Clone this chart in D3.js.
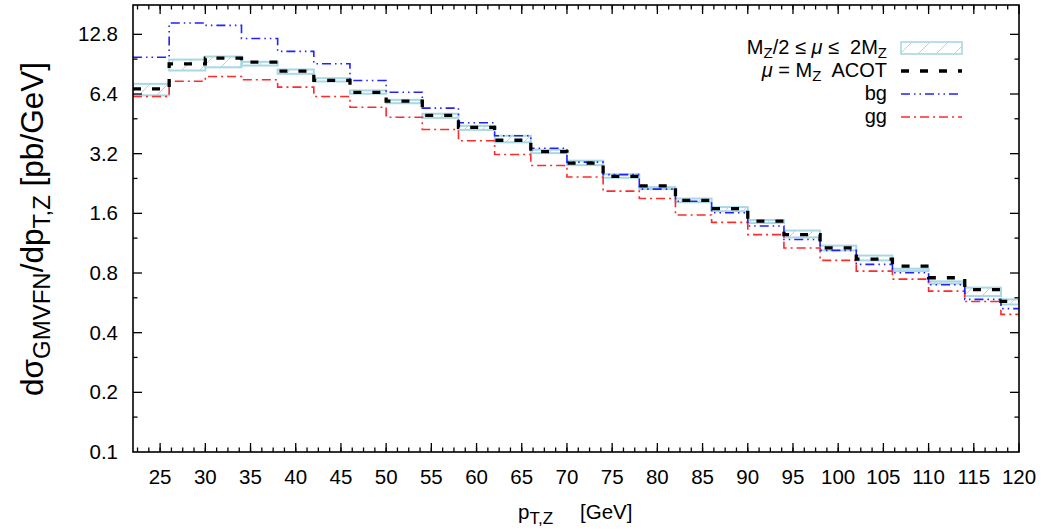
<!DOCTYPE html>
<html>
<head>
<meta charset="utf-8">
<script src="https://cdn.jsdelivr.net/npm/d3@7"></script>
<style>
  body { margin: 0; background: #fff; }
  text { font-family: Arial, "Liberation Sans", Helvetica, sans-serif; fill: #000; }
</style>
</head>
<body>
<script>
// bin left edges (GeV), 4 GeV wide
const binEdges = d3.range(22, 123, 4);
// scale band M_Z/2 <= mu <= 2 M_Z
const bandLo = [6.3, 8.41, 8.73, 8.91, 8.09, 7.40, 6.42, 5.75, 4.85, 4.22, 3.65, 3.22, 2.80, 2.42, 2.12, 1.82, 1.64, 1.43, 1.21, 1.04, 0.926, 0.818, 0.707, 0.612, 0.555];
const bandHi = [7.2, 9.55, 9.89, 9.30, 8.51, 7.69, 6.67, 5.98, 5.09, 4.42, 3.94, 3.35, 2.95, 2.52, 2.17, 1.90, 1.72, 1.48, 1.31, 1.10, 0.98, 0.841, 0.726, 0.675, 0.589];
// mu = M_Z ACOT
const acot = [6.80, 9.09, 9.70, 9.26, 8.34, 7.49, 6.53, 5.89, 4.99, 4.34, 3.74, 3.28, 2.87, 2.46, 2.20, 1.86, 1.69, 1.46, 1.25, 1.07, 0.94, 0.867, 0.757, 0.659, 0.575];
const bg = [9.81, 14.6, 14.2, 12.2, 10.5, 9.09, 7.49, 6.53, 5.43, 4.58, 3.94, 3.41, 2.90, 2.51, 2.12, 1.84, 1.61, 1.38, 1.18, 1.04, 0.884, 0.803, 0.698, 0.589, 0.529];
const gg = [6.22, 7.42, 7.84, 7.55, 6.93, 6.22, 5.49, 4.89, 4.24, 3.72, 3.17, 2.79, 2.44, 2.07, 1.90, 1.57, 1.44, 1.25, 1.07, 0.926, 0.818, 0.745, 0.648, 0.575, 0.495];

const xTicks = d3.range(25, 121, 5);
const xMinor = d3.range(22.5, 120, 1.25);
const yTicks = [0.1, 0.2, 0.4, 0.8, 1.6, 3.2, 6.4, 12.8];
const yMinor = [0.15, 0.3, 0.6, 1.2, 2.4, 4.8, 9.6];

const width = 1058, height = 532;
const pL = 133, pR = 1019, pT = 5, pB = 452;

const svg = d3.select('body').append('svg')
    .attr('width', width)
    .attr('height', height);

const x = d3.scaleLinear().domain([22, 120]).range([pL, pR]);
const y = d3.scaleLog().domain([0.1, 18]).range([pB, pT]);

const defs = svg.append('defs');
defs.append('clipPath').attr('id', 'clip')
  .append('rect')
    .attr('x', pL).attr('y', pT)
    .attr('width', pR - pL).attr('height', pB - pT);

const hatch = defs.append('pattern')
    .attr('id', 'hatch')
    .attr('patternUnits', 'userSpaceOnUse')
    .attr('width', 18).attr('height', 18);
hatch.append('path')
    .attr('d', 'M0,18 L18,0 M-4.5,4.5 L4.5,-4.5 M13.5,22.5 L22.5,13.5')
    .attr('stroke', '#a9d8e4')
    .attr('stroke-width', 1);

const plot = svg.append('g').attr('clip-path', 'url(#clip)');

// uncertainty band boxes
plot.append('g').selectAll('rect')
    .data(bandLo)
    .enter().append('rect')
    .attr('x', (d, i) => x(binEdges[i]))
    .attr('width', (d, i) => x(binEdges[i] + 4) - x(binEdges[i]))
    .attr('y', (d, i) => y(bandHi[i]))
    .attr('height', (d, i) => y(d) - y(bandHi[i]))
    .attr('fill', 'url(#hatch)')
    .attr('stroke', '#a9d8e4')
    .attr('stroke-width', 2);

// histogram steps
const step = d3.line()
    .x(d => x(d[0]))
    .y(d => y(d[1]))
    .curve(d3.curveStepAfter);

function stepPoints(vals) {
    return binEdges.map((e, i) => [e, vals[Math.min(i, vals.length - 1)]]);
}

const series = [
    { vals: gg, color: '#ff2a2a', width: 1.6, dash: '9,4,2,4' },
    { vals: bg, color: '#2222ff', width: 1.6, dash: '9,4,1.5,4,1.5,4' },
    { vals: acot, color: '#000', width: 3.3, dash: '8,11' }
];

plot.selectAll('path.series')
    .data(series)
    .enter().append('path')
    .attr('class', 'series')
    .attr('d', d => step(stepPoints(d.vals)))
    .attr('fill', 'none')
    .attr('stroke', d => d.color)
    .attr('stroke-width', d => d.width)
    .attr('stroke-dasharray', d => d.dash);

// frame and ticks (mirrored on all sides)
const axes = svg.append('g').attr('stroke', '#000').attr('stroke-width', 1.3);
axes.append('rect')
    .attr('x', pL).attr('y', pT)
    .attr('width', pR - pL).attr('height', pB - pT)
    .attr('fill', 'none').attr('stroke-width', 1.6);

function xTickLines(vals, len) {
    axes.selectAll(null).data(vals).enter().append('line')
        .attr('x1', d => x(d)).attr('x2', d => x(d))
        .attr('y1', pB).attr('y2', pB - len);
    axes.selectAll(null).data(vals).enter().append('line')
        .attr('x1', d => x(d)).attr('x2', d => x(d))
        .attr('y1', pT).attr('y2', pT + len);
}
function yTickLines(vals, len) {
    axes.selectAll(null).data(vals).enter().append('line')
        .attr('y1', d => y(d)).attr('y2', d => y(d))
        .attr('x1', pL).attr('x2', pL + len);
    axes.selectAll(null).data(vals).enter().append('line')
        .attr('y1', d => y(d)).attr('y2', d => y(d))
        .attr('x1', pR).attr('x2', pR - len);
}
xTickLines(xTicks, 9);
xTickLines(xMinor, 4.5);
yTickLines(yTicks.slice(1), 9);
yTickLines(yMinor, 4.5);

svg.append('g').selectAll('text')
    .data(xTicks)
    .enter().append('text')
    .attr('x', d => x(d))
    .attr('y', 484)
    .attr('text-anchor', 'middle')
    .attr('font-size', 20.5)
    .text(d => d);

svg.append('g').selectAll('text')
    .data(yTicks)
    .enter().append('text')
    .attr('x', 118)
    .attr('y', d => y(d) + 7)
    .attr('text-anchor', 'end')
    .attr('font-size', 20.5)
    .text(d => d);

// axis titles
const xt = svg.append('text')
    .attr('x', 518).attr('y', 519)
    .attr('font-size', 20.5);
xt.append('tspan').text('p');
xt.append('tspan').attr('dy', 5).attr('font-size', 17).text('T,Z');
svg.append('text')
    .attr('x', 580).attr('y', 519)
    .attr('font-size', 20.5)
    .text('[GeV]');

const yt = svg.append('text')
    .attr('transform', 'translate(43,229) rotate(-90)')
    .attr('text-anchor', 'middle')
    .attr('font-size', 31.5);
yt.append('tspan').text('dσ');
yt.append('tspan').attr('dy', 7).attr('font-size', 24).text('GMVFN');
yt.append('tspan').attr('dy', -7).text('/dp');
yt.append('tspan').attr('dy', 7).attr('font-size', 24).text('T,Z');
yt.append('tspan').attr('dy', -7).text(' [pb/GeV]');

// legend
const legendRows = [
    { y: 48, kind: 'band' },
    { y: 71, kind: 'line', s: series[2] },
    { y: 94, kind: 'line', s: series[1] },
    { y: 117, kind: 'line', s: series[0] }
];
const lx0 = 901, lx1 = 962, ltx = 887;
const legend = svg.append('g');
legendRows.forEach(r => {
    if (r.kind === 'band') {
        legend.append('rect')
            .attr('x', lx0).attr('y', r.y - 6)
            .attr('width', lx1 - lx0).attr('height', 12)
            .attr('fill', 'url(#hatch)')
            .attr('stroke', '#a9d8e4').attr('stroke-width', 1.6);
    } else {
        legend.append('line')
            .attr('x1', lx0).attr('x2', lx1)
            .attr('y1', r.y).attr('y2', r.y)
            .attr('stroke', r.s.color)
            .attr('stroke-width', r.s.width)
            .attr('stroke-dasharray', r.s.dash);
    }
});
const fs = 20, sfs = 15;
const l1 = legend.append('text').attr('x', ltx).attr('y', 54).attr('text-anchor', 'end').attr('font-size', fs)
    .attr('xml:space', 'preserve');
l1.append('tspan').text('M');
l1.append('tspan').attr('dy', 4).attr('font-size', sfs).text('Z');
l1.append('tspan').attr('dy', -4).text('/2 ≤ ');
l1.append('tspan').attr('font-style', 'italic').text('μ');
l1.append('tspan').text(' ≤  2M');
l1.append('tspan').attr('dy', 4).attr('font-size', sfs).text('Z');

const l2 = legend.append('text').attr('x', ltx).attr('y', 77).attr('text-anchor', 'end').attr('font-size', fs)
    .attr('xml:space', 'preserve');
l2.append('tspan').attr('font-style', 'italic').text('μ');
l2.append('tspan').text(' = M');
l2.append('tspan').attr('dy', 4).attr('font-size', sfs).text('Z');
l2.append('tspan').attr('dy', -4).text('  ACOT');

legend.append('text').attr('x', ltx).attr('y', 100).attr('text-anchor', 'end').attr('font-size', fs).text('bg');
legend.append('text').attr('x', ltx).attr('y', 123).attr('text-anchor', 'end').attr('font-size', fs).text('gg');
</script>
</body>
</html>
